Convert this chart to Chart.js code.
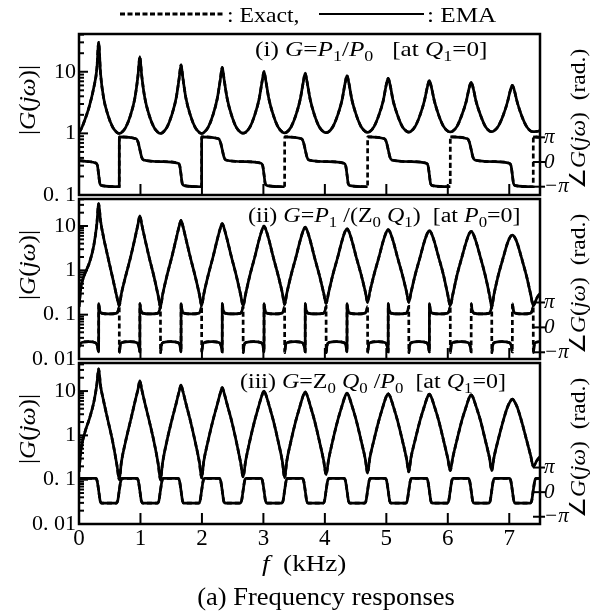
<!DOCTYPE html>
<html><head><meta charset="utf-8">
<script src="https://cdn.jsdelivr.net/npm/chart.js@4.4.1/dist/chart.umd.min.js"></script>
<style>
html,body{margin:0;padding:0;background:#fff;}
#wrap{position:relative;width:600px;height:612px;background:#fff;}
canvas{position:absolute;left:0;top:0;}
</style></head><body>
<div id="wrap">
<canvas id="c1" width="600" height="612"></canvas>
<canvas id="c2" width="600" height="612"></canvas>
<canvas id="c3" width="600" height="612"></canvas>
</div>
<script>
// ---------- data ----------
const freq = [
 0,0.03,0.09,0.17,0.24,0.29,0.32,0.35,0.40,0.47,0.55,0.62,0.655,
 0.69,0.76,0.84,0.91,0.96,0.99,1.02,1.07,1.14,1.22,1.29,1.325,
 1.36,1.43,1.51,1.58,1.63,1.66,1.69,1.74,1.81,1.89,1.96,1.995,
 2.03,2.10,2.18,2.25,2.30,2.33,2.36,2.41,2.48,2.56,2.63,2.67,
 2.71,2.78,2.86,2.93,2.98,3.01,3.04,3.09,3.16,3.24,3.31,3.345,
 3.38,3.45,3.53,3.60,3.65,3.68,3.71,3.76,3.83,3.91,3.98,4.02,
 4.06,4.13,4.21,4.28,4.33,4.36,4.39,4.44,4.51,4.59,4.66,4.695,
 4.73,4.80,4.88,4.95,5.00,5.03,5.06,5.11,5.18,5.26,5.33,5.365,
 5.40,5.47,5.55,5.62,5.67,5.70,5.73,5.78,5.85,5.93,6.00,6.04,
 6.08,6.15,6.23,6.30,6.35,6.38,6.41,6.46,6.53,6.61,6.68,6.715,
 6.75,6.82,6.90,6.97,7.02,7.05,7.08,7.13,7.20,7.28,7.35,7.39,
 7.45,7.50];

const magP1P0 = [
 1.05,1.15,1.6,2.8,5.5,11,30,9.5,3.8,2.0,1.25,1.03,1.0,
 1.03,1.25,2.0,3.8,8.7,17.6,8.7,3.8,2.0,1.25,1.03,1.0,
 1.03,1.25,2.0,3.7,7.9,13,7.9,3.7,2.0,1.25,1.03,1.0,
 1.03,1.25,2.0,3.7,7.6,11.8,7.6,3.7,2.0,1.25,1.04,1.01,
 1.04,1.26,2.0,3.6,7.1,10.1,7.1,3.6,2.0,1.26,1.05,1.02,
 1.05,1.27,2.0,3.6,6.9,9.5,6.9,3.6,2.0,1.27,1.06,1.03,
 1.06,1.28,2.0,3.5,6.6,8.7,6.6,3.5,2.0,1.28,1.07,1.04,
 1.07,1.29,2.0,3.4,6.2,7.8,6.2,3.4,2.0,1.29,1.08,1.05,
 1.08,1.3,2.0,3.4,5.8,7.2,5.8,3.4,2.0,1.3,1.09,1.06,
 1.09,1.3,2.0,3.3,5.6,6.75,5.6,3.3,2.0,1.3,1.09,1.07,
 1.1,1.3,1.95,3.2,5.1,6.0,5.1,3.2,1.95,1.3,1.09,1.07,
 1.08,1.1];

const magP1Q1 = [
 0.15,0.4,0.8,1.5,3.6,11,32,13.4,5.5,2.0,0.65,0.24,0.16,
 0.3,0.75,2.0,5.3,11,17,11,5.3,2.0,0.72,0.26,0.15,
 0.28,0.75,2.0,5.1,9.9,13.5,9.9,5.1,2.0,0.74,0.28,0.16,
 0.29,0.76,2.0,5.0,9.0,11.4,9.0,5.0,2.0,0.75,0.28,0.16,
 0.29,0.77,2.0,4.9,8.3,10,8.3,4.9,2.0,0.77,0.3,0.17,
 0.3,0.78,2.0,4.8,8.0,9.4,8.0,4.8,2.0,0.78,0.31,0.18,
 0.31,0.8,2.0,4.7,7.6,8.8,7.6,4.7,2.0,0.8,0.32,0.19,
 0.32,0.8,2.0,4.6,7.3,8.3,7.3,4.6,2.0,0.8,0.32,0.19,
 0.31,0.8,2.0,4.5,7.0,7.9,7.0,4.5,2.0,0.78,0.28,0.16,
 0.28,0.78,2.0,4.4,6.8,7.6,6.8,4.4,2.0,0.76,0.27,0.15,
 0.28,0.76,1.9,4.1,5.8,6.2,5.8,4.1,1.9,0.75,0.28,0.16,
 0.24,0.3];

const magZ0Q0P0 = [
 0.15,0.45,1.1,2.4,5.5,14,31.6,13.4,6.0,2.2,0.7,0.2,0.10,
 0.25,0.75,2.2,5.7,11,16.9,11,5.5,2.2,0.72,0.22,0.10,
 0.24,0.75,2.2,5.2,9.9,13.7,9.9,5.2,2.2,0.72,0.24,0.11,
 0.26,0.75,2.2,5.0,9.1,11.9,9.1,5.0,2.2,0.72,0.24,0.115,
 0.26,0.76,2.2,4.9,8.3,10,8.3,4.9,2.2,0.74,0.25,0.11,
 0.26,0.76,2.2,4.8,8.1,9.6,8.1,4.8,2.2,0.75,0.27,0.13,
 0.28,0.78,2.2,4.7,7.7,9.0,7.7,4.7,2.2,0.76,0.28,0.14,
 0.3,0.8,2.2,4.7,7.6,8.8,7.6,4.7,2.2,0.78,0.29,0.15,
 0.31,0.8,2.2,4.6,7.4,8.5,7.4,4.6,2.2,0.78,0.3,0.16,
 0.31,0.8,2.2,4.5,7.2,8.2,7.2,4.5,2.2,0.78,0.3,0.16,
 0.31,0.8,2.1,4.3,6.0,6.6,6.0,4.3,2.1,0.8,0.34,0.2,
 0.27,0.33];

// phase [f (kHz), rad]
const phaseP1P0 = [
 [0,0.18],[0.15,0.05],[0.27,-0.12],[0.30,-0.45],[0.32,-1.6],[0.34,-2.75],[0.37,-3.0],[0.655,-3.15],
 [0.656,3.2],[0.93,2.95],[0.96,2.55],[0.99,1.6],[1.02,0.6],[1.05,0.25],[1.35,0.05],[1.61,-0.15],
 [1.64,-0.5],[1.66,-1.6],[1.68,-2.75],[1.71,-3.0],[1.995,-3.15],
 [1.996,3.2],[2.27,2.95],[2.30,2.55],[2.33,1.6],[2.36,0.6],[2.39,0.25],[2.70,0.05],[2.96,-0.15],
 [2.99,-0.5],[3.01,-1.6],[3.03,-2.75],[3.06,-3.0],[3.345,-3.15],
 [3.346,3.2],[3.62,2.95],[3.65,2.55],[3.68,1.6],[3.71,0.6],[3.74,0.25],[4.05,0.05],[4.31,-0.15],
 [4.34,-0.5],[4.36,-1.6],[4.38,-2.75],[4.41,-3.0],[4.695,-3.15],
 [4.696,3.2],[4.97,2.95],[5.00,2.55],[5.03,1.6],[5.06,0.6],[5.09,0.25],[5.40,0.05],[5.65,-0.15],
 [5.68,-0.5],[5.70,-1.6],[5.72,-2.75],[5.75,-3.0],[6.04,-3.15],
 [6.041,3.2],[6.32,2.95],[6.35,2.55],[6.38,1.6],[6.41,0.6],[6.44,0.25],[6.75,0.05],[7.00,-0.15],
 [7.03,-0.5],[7.05,-1.6],[7.07,-2.75],[7.10,-3.0],[7.39,-3.15],
 [7.391,3.2],[7.5,3.15]];

const phaseP1Q1 = [
 [0,-2.5],[0.015,-2.15],[0.045,-1.9],[0.16,-1.8],[0.27,-1.95],[0.30,-2.4],[0.32,-3.1],
 [0.321,3.0],[0.335,2.2],[0.365,1.8],[0.49,1.7],[0.615,1.8],[0.643,2.25],[0.655,2.65],
 [0.656,-3.2],[0.67,-2.3],[0.70,-1.9],[0.82,-1.8],[0.945,-1.95],[0.975,-2.4],[0.99,-3.1],
 [0.991,3.0],[1.005,2.2],[1.035,1.8],[1.16,1.7],[1.285,1.8],[1.313,2.25],[1.325,2.65],
 [1.326,-3.2],[1.34,-2.3],[1.37,-1.9],[1.49,-1.8],[1.615,-1.95],[1.645,-2.4],[1.66,-3.1],
 [1.661,3.0],[1.675,2.2],[1.705,1.8],[1.83,1.7],[1.955,1.8],[1.983,2.25],[1.995,2.65],
 [1.996,-3.2],[2.01,-2.3],[2.04,-1.9],[2.16,-1.8],[2.285,-1.95],[2.315,-2.4],[2.33,-3.1],
 [2.331,3.0],[2.345,2.2],[2.375,1.8],[2.50,1.7],[2.63,1.8],[2.658,2.25],[2.67,2.65],
 [2.671,-3.2],[2.685,-2.3],[2.715,-1.9],[2.84,-1.8],[2.965,-1.95],[2.995,-2.4],[3.01,-3.1],
 [3.011,3.0],[3.025,2.2],[3.055,1.8],[3.18,1.7],[3.305,1.8],[3.333,2.25],[3.345,2.65],
 [3.346,-3.2],[3.36,-2.3],[3.39,-1.9],[3.51,-1.8],[3.635,-1.95],[3.665,-2.4],[3.68,-3.1],
 [3.681,3.0],[3.695,2.2],[3.725,1.8],[3.85,1.7],[3.98,1.8],[4.008,2.25],[4.02,2.65],
 [4.021,-3.2],[4.035,-2.3],[4.065,-1.9],[4.19,-1.8],[4.315,-1.95],[4.345,-2.4],[4.36,-3.1],
 [4.361,3.0],[4.375,2.2],[4.405,1.8],[4.53,1.7],[4.655,1.8],[4.683,2.25],[4.695,2.65],
 [4.696,-3.2],[4.71,-2.3],[4.74,-1.9],[4.86,-1.8],[4.985,-1.95],[5.015,-2.4],[5.03,-3.1],
 [5.031,3.0],[5.045,2.2],[5.075,1.8],[5.20,1.7],[5.325,1.8],[5.353,2.25],[5.365,2.65],
 [5.366,-3.2],[5.38,-2.3],[5.41,-1.9],[5.53,-1.8],[5.655,-1.95],[5.685,-2.4],[5.70,-3.1],
 [5.701,3.0],[5.715,2.2],[5.745,1.8],[5.87,1.7],[6.0,1.8],[6.028,2.25],[6.04,2.65],
 [6.041,-3.2],[6.055,-2.3],[6.085,-1.9],[6.21,-1.8],[6.335,-1.95],[6.365,-2.4],[6.38,-3.1],
 [6.381,3.0],[6.395,2.2],[6.425,1.8],[6.55,1.7],[6.675,1.8],[6.703,2.25],[6.715,2.65],
 [6.716,-3.2],[6.73,-2.3],[6.76,-1.9],[6.88,-1.8],[7.005,-1.95],[7.035,-2.4],[7.05,-3.1],
 [7.051,3.0],[7.065,2.2],[7.095,1.8],[7.22,1.7],[7.35,1.8],[7.378,2.25],[7.39,2.65],
 [7.391,-3.2],[7.405,-2.3],[7.435,-1.9],[7.5,-1.8]];

const phaseZ0Q0P0 = [
 [0,1.75],[0.27,1.75],[0.295,1.45],[0.32,0.2],[0.345,-1.15],[0.37,-1.4],
 [0.605,-1.4],[0.63,-1.1],[0.655,0.2],[0.68,1.45],[0.705,1.75],
 [0.94,1.75],[0.965,1.45],[0.99,0.2],[1.015,-1.15],[1.04,-1.4],
 [1.275,-1.4],[1.30,-1.1],[1.325,0.2],[1.35,1.45],[1.375,1.75],
 [1.61,1.75],[1.635,1.45],[1.66,0.2],[1.685,-1.15],[1.71,-1.4],
 [1.945,-1.4],[1.97,-1.1],[1.995,0.2],[2.02,1.45],[2.045,1.75],
 [2.28,1.75],[2.305,1.45],[2.33,0.2],[2.355,-1.15],[2.38,-1.4],
 [2.62,-1.4],[2.645,-1.1],[2.67,0.2],[2.695,1.45],[2.72,1.75],
 [2.96,1.75],[2.985,1.45],[3.01,0.2],[3.035,-1.15],[3.06,-1.4],
 [3.295,-1.4],[3.32,-1.1],[3.345,0.2],[3.37,1.45],[3.395,1.75],
 [3.63,1.75],[3.655,1.45],[3.68,0.2],[3.705,-1.15],[3.73,-1.4],
 [3.97,-1.4],[3.995,-1.1],[4.02,0.2],[4.045,1.45],[4.07,1.75],
 [4.31,1.75],[4.335,1.45],[4.36,0.2],[4.385,-1.15],[4.41,-1.4],
 [4.645,-1.4],[4.67,-1.1],[4.695,0.2],[4.72,1.45],[4.745,1.75],
 [4.98,1.75],[5.005,1.45],[5.03,0.2],[5.055,-1.15],[5.08,-1.4],
 [5.315,-1.4],[5.34,-1.1],[5.365,0.2],[5.39,1.45],[5.415,1.75],
 [5.65,1.75],[5.675,1.45],[5.70,0.2],[5.725,-1.15],[5.75,-1.4],
 [5.99,-1.4],[6.015,-1.1],[6.04,0.2],[6.065,1.45],[6.09,1.75],
 [6.33,1.75],[6.355,1.45],[6.38,0.2],[6.405,-1.15],[6.43,-1.4],
 [6.665,-1.4],[6.69,-1.1],[6.715,0.2],[6.74,1.45],[6.765,1.75],
 [7.00,1.75],[7.025,1.45],[7.05,0.2],[7.075,-1.15],[7.10,-1.4],
 [7.34,-1.4],[7.365,-1.1],[7.39,0.2],[7.415,1.45],[7.44,1.75],[7.5,1.75]];

// phase jumps where only the Exact (dashed) curve shows a vertical line
const emaHidden1 = [3.345,4.695,6.04,7.39];
const emaHidden2 = [0.655,1.325,1.995,2.67,3.345,4.02,4.695,5.365,6.04,6.38,6.715,7.05,7.39];
const emaHidden3 = [];

// tick values / labels
const xTicks = [0,1,2,3,4,5,6,7];
const magTicks = [0.01,0.1,1,10];
const magTickLabels = ['0. 01','0. 1','1','10'];
const minorMult = [2,3,4,5,6,7,8,9];
const phaseTicks = [-Math.PI,0,Math.PI];
const phaseTickLabels = ['\u2212\u03c0','0','\u03c0'];

// texts (segments: n = normal, i = italic, s = subscript)
const label1 = [['(i) ','n'],['G','i'],['=','n'],['P','i'],['1','s'],['/','n'],['P','i'],['0','s'],['   [at ','n'],['Q','i'],['1','s'],['=0]','n']];
const label2 = [['(ii) ','n'],['G','i'],['=','n'],['P','i'],['1','s'],[' /(Z','n'],['0','s'],[' ','n'],['Q','i'],['1','s'],[')  [at ','n'],['P','i'],['0','s'],['=0]','n']];
const label3 = [['(iii) ','n'],['G','i'],['=','n'],['Z','n'],['0','s'],[' ','n'],['Q','i'],['0','s'],[' /','n'],['P','i'],['0','s'],['  [at ','n'],['Q','i'],['1','s'],['=0]','n']];
const leftTitle = [['|','n'],['G','i'],['(','n'],['j','i'],['\u03c9','i'],[')','n'],['|','n']];
const rightTitle = [['\u2220','n'],['G','i'],['(','n'],['j','i'],['\u03c9','i'],[')','n'],['  (rad.)','n']];
const xTitle = [['f','i'],['  (kHz)','n']];
const figTitle = [['(a) Frequency responses','n']];
const legendExact = ': Exact,';
const legendEMA = ': EMA';

// ---------- drawing ----------
const SERIF = "'Liberation Serif', 'Times New Roman', serif";
function fontOf(st, size){
  if (st === 'i') return 'italic ' + size + 'px ' + SERIF;
  if (st === 's') return Math.round(size*0.7) + 'px ' + SERIF;
  return size + 'px ' + SERIF;
}
function richWidth(ctx, segs, size){
  let w = 0;
  for (const [t, st] of segs){ ctx.font = fontOf(st, size); w += ctx.measureText(t).width; }
  return w;
}
function drawRich(ctx, segs, x, y, size, align, sx){
  sx = sx || 1;
  ctx.save();
  ctx.translate(x, y); ctx.scale(sx, 1);
  const w = richWidth(ctx, segs, size);
  let cx = align === 'center' ? -w/2 : (align === 'right' ? -w : 0);
  for (const [t, st] of segs){
    ctx.font = fontOf(st, size);
    const dy = st === 's' ? size*0.25 : 0;
    ctx.fillText(t, cx, dy);
    cx += ctx.measureText(t).width;
  }
  ctx.restore();
}
function line(ctx, x1, y1, x2, y2){ ctx.beginPath(); ctx.moveTo(x1,y1); ctx.lineTo(x2,y2); ctx.stroke(); }

const decoPlugin = {
  id: 'deco',
  afterDraw(chart, args, o){
    const {ctx, chartArea: a, scales} = chart;
    ctx.save();
    ctx.strokeStyle = '#000'; ctx.fillStyle = '#000'; ctx.setLineDash([]);
    // frame
    ctx.lineWidth = 2.5;
    ctx.strokeRect(a.left, a.top, a.right - a.left, a.bottom - a.top);
    // x ticks (inward)
    ctx.lineWidth = 2;
    xTicks.forEach(v => { if (v > 0) { const x = scales.x.getPixelForValue(v); line(ctx, x, a.bottom, x, a.bottom - 11); } });
    // log ticks (inward on the left)
    const y = scales.y;
    magTicks.forEach(d => {
      if (d >= y.min && d <= y.max) { const py = y.getPixelForValue(d); line(ctx, a.left, py, a.left + 9, py); }
      minorMult.forEach(m => {
        const v = d*m;
        if (v > y.min && v < y.max) { const py = y.getPixelForValue(v); line(ctx, a.left, py, a.left + 5, py); }
      });
    });
    // phase ticks (crossing the right border)
    phaseTicks.forEach(v => { const py = scales.yp.getPixelForValue(v); line(ctx, a.right - 7, py, a.right + 5, py); });
    // texts
    ctx.textBaseline = 'alphabetic';
    drawRich(ctx, o.label, o.labelX, o.labelY, o.labelSize, 'left', 1.2);
    ctx.textBaseline = 'middle';
    ctx.save(); ctx.translate(29, a.top + 66); ctx.rotate(-Math.PI/2);
    drawRich(ctx, leftTitle, 0, 0, 24, 'center', 1.05); ctx.restore();
    ctx.save(); ctx.translate(579, a.top + 85); ctx.rotate(-Math.PI/2);
    drawRich(ctx, rightTitle, 0, 0, 22, 'center', 1.07); ctx.restore();
    ctx.textBaseline = 'alphabetic';
    if (o.legend){
      ctx.lineWidth = 3; ctx.setLineDash([5,2.5]);
      line(ctx, 120, 14, 225, 14);
      ctx.setLineDash([]); ctx.lineWidth = 2;
      line(ctx, 319, 14, 424, 14);
      drawRich(ctx, [[legendExact,'n']], 227, 22, 21, 'left', 1.13);
      drawRich(ctx, [[legendEMA,'n']], 427, 22, 21, 'left', 1.2);
    }
    if (o.bottomTexts){
      drawRich(ctx, xTitle, 262, 571, 23, 'left', 1.18);
      drawRich(ctx, figTitle, 326, 605, 25, 'center', 1.06);
    }
    ctx.restore();
  }
};

const panels = [
  {id:'c1', top:34, bottom:195, magMin:0.1, magMax:41, phMin:-4.2, phMax:16.3,
   mag:magP1P0, phase:phaseP1P0, hidden:emaHidden1, label:label1, labelX:255, labelY:56, labelSize:21, showX:false, legend:true},
  {id:'c2', top:199, bottom:359, magMin:0.01, magMax:40.7, phMin:-3.99, phMax:16.2,
   mag:magP1Q1, phase:phaseP1Q1, hidden:emaHidden2, label:label2, labelX:248, labelY:222, labelSize:20, showX:false},
  {id:'c3', top:363, bottom:524, magMin:0.01, magMax:43, phMin:-4.07, phMax:16.5,
   mag:magZ0Q0P0, phase:phaseZ0Q0P0, hidden:emaHidden3, label:label3, labelX:240, labelY:388, labelSize:20, showX:true, bottomTexts:true}
];

function closestIdx(arr, v){ let b = 0; arr.forEach((a,i) => { if (Math.abs(a - v) < Math.abs(arr[b] - v)) b = i; }); return b; }

panels.forEach(p => {
  const magPts = freq.map((f,i) => ({x:f, y:p.mag[i]}));
  const phPts = p.phase.map(([f,v]) => ({x:f, y:v}));
  const common = {borderColor:'#000', borderWidth:2.7, pointRadius:0, fill:false, cubicInterpolationMode:'monotone'};
  new Chart(document.getElementById(p.id), {
    type:'line',
    data:{datasets:[
      Object.assign({label:'EMA', data:magPts, yAxisID:'y'}, common),
      Object.assign({label:'EMA phase', data:phPts, yAxisID:'yp',
        segment:{borderColor: ctx => p.hidden.some(b => Math.abs(ctx.p0.parsed.x - b) < 1e-6) ? 'rgba(0,0,0,0)' : undefined}}, common),
      Object.assign({label:'Exact', data:magPts, yAxisID:'y', borderDash:[5,3]}, common),
      Object.assign({label:'Exact phase', data:phPts, yAxisID:'yp', borderDash:[5,3]}, common)
    ]},
    options:{
      responsive:false, animation:false, events:[],
      layout:{padding:{top:p.top, left:0, right:0, bottom:0}},
      plugins:{legend:{display:false}, tooltip:{enabled:false},
        deco:{label:p.label, labelX:p.labelX, labelY:p.labelY, labelSize:p.labelSize, legend:!!p.legend, bottomTexts:!!p.bottomTexts}},
      scales:{
        x:{type:'linear', position:'bottom', min:0, max:7.5,
           grid:{display:false, drawTicks:false}, border:{display:false},
           afterBuildTicks: s => { s.ticks = xTicks.map(v => ({value:v})); },
           afterFit: s => { s.height = 612 - p.bottom; },
           ticks:{display:p.showX, padding:1, color:'#000', autoSkip:false, maxRotation:0,
                  font:{family:SERIF, size:23}, callback: v => String(v)}},
        y:{type:'logarithmic', position:'left', min:p.magMin, max:p.magMax,
           grid:{display:false, drawTicks:false}, border:{display:false},
           afterBuildTicks: s => { s.ticks = magTicks.filter(v => v >= p.magMin*0.999 && v <= p.magMax).map(v => ({value:v})); },
           afterFit: s => { s.width = 79; },
           ticks:{padding:3, color:'#000', autoSkip:false, font:{family:SERIF, size:22},
                  callback: v => magTickLabels[closestIdx(magTicks, v)]}},
        yp:{type:'linear', position:'right', min:p.phMin, max:p.phMax,
           grid:{display:false, drawTicks:false}, border:{display:false},
           afterBuildTicks: s => { s.ticks = phaseTicks.map(v => ({value:v})); },
           afterFit: s => { s.width = 60; },
           ticks:{padding:4, color:'#000', autoSkip:false, font:{family:SERIF, size:21, style:'italic'},
                  callback: v => phaseTickLabels[closestIdx(phaseTicks, v)]}}
      }
    },
    plugins:[decoPlugin]
  });
});
</script>
</body></html>
